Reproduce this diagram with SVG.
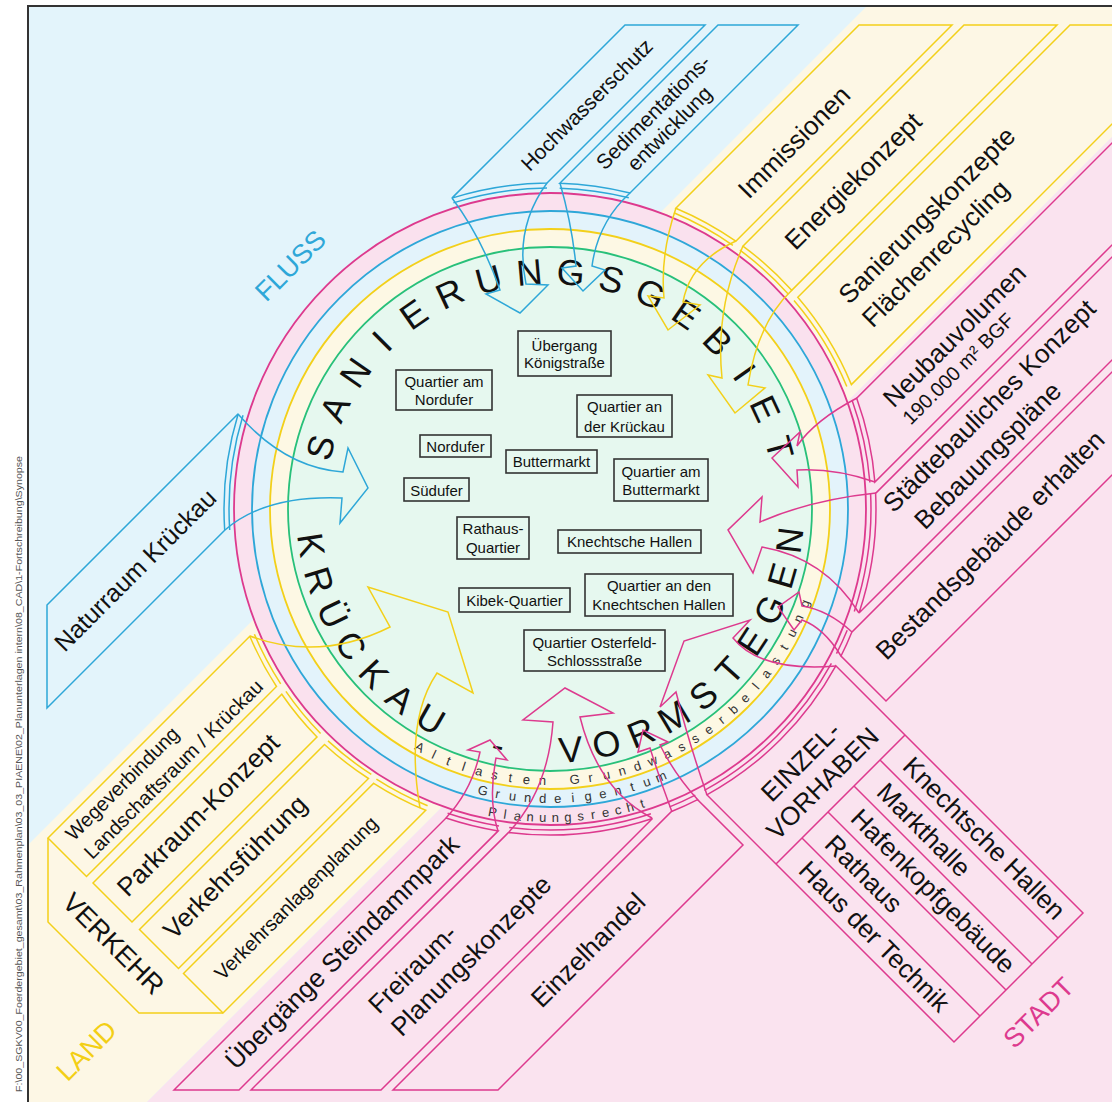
<svg xmlns="http://www.w3.org/2000/svg" width="1112" height="1102" viewBox="0 0 1112 1102">
<style>
text{font-family:"Liberation Sans",Arial,sans-serif;fill:#111}
.lbl{font-size:26px;text-anchor:middle}
.st{font-size:26px;text-anchor:start}
.big{font-size:36px;text-anchor:middle}
.rl text{font-size:13px;fill:#333;text-anchor:middle}
.qb rect{fill:none;stroke:#333;stroke-width:1.6}
.qb text{font-size:15px;text-anchor:middle}
.bl{fill:none;stroke:#2ea7d8;stroke-width:1.5}
.ye{fill:none;stroke:#f3d01a;stroke-width:1.5}
.mg{fill:none;stroke:#dd3a8e;stroke-width:1.5}
.zone{font-size:27px;text-anchor:middle}
.zb{fill:#2ea7d8}
.zy{fill:#f3cf15}
.zm{fill:#dd3a8e}
.path{font-size:9px;fill:#555}
</style>
<rect width="1112" height="1102" fill="#fff"/>
<g id="background">
<rect x="28" y="6" width="1100" height="1110" fill="#e3f4fb"/>
<polygon points="867,6 1112,6 1112,137 147,1102 28,1102 28,845" fill="#fdf7e5"/>
<polygon points="1112,137 1112,1102 147,1102" fill="#fae3ef"/>
<path d="M28,1102 V6 H1112" fill="none" stroke="#333" stroke-width="2"/>
<text class="path" transform="translate(22,1092) rotate(-90)" textLength="636" lengthAdjust="spacingAndGlyphs">F:\00_SGKV00_Foerdergebiet_gesamt\03_Rahmenplan\03_03_PIAENE\02_Planunterlagen intern\08_CAD\1-Fortschreibung\Synopse</text>
<text class="zone zb" transform="translate(290,265) rotate(-45)" y="10">FLUSS</text>
<text class="zone zy" transform="translate(86,1050) rotate(-45)" y="10">LAND</text>
<text class="zone zm" transform="translate(1038,1012) rotate(-45)" y="10">STADT</text>
</g>
<g id="ring">
<circle cx="550" cy="509" r="316" fill="#fae1ee" stroke="#dd3a8e" stroke-width="1.8"/>
<circle cx="550" cy="509" r="298" fill="#e3f3fb" stroke="#2ea7d8" stroke-width="1.8"/>
<circle cx="550" cy="509" r="280" fill="#fdf8e4" stroke="#f3d01a" stroke-width="1.8"/>
<circle cx="550" cy="509" r="262" fill="#e6f8ef" stroke="#28c07a" stroke-width="1.8"/>
</g>
<g id="ring-altlasten" class="rl">
<text x="550" y="785" transform="rotate(28.7 550 509)">A</text>
<text x="550" y="785" transform="rotate(25.31 550 509)">l</text>
<text x="550" y="785" transform="rotate(21.92 550 509)">t</text>
<text x="550" y="785" transform="rotate(18.53 550 509)">l</text>
<text x="550" y="785" transform="rotate(15.14 550 509)">a</text>
<text x="550" y="785" transform="rotate(11.75 550 509)">s</text>
<text x="550" y="785" transform="rotate(8.36 550 509)">t</text>
<text x="550" y="785" transform="rotate(4.97 550 509)">e</text>
<text x="550" y="785" transform="rotate(1.58 550 509)">n</text>
<text x="550" y="785" transform="rotate(-5.2 550 509)">G</text>
<text x="550" y="785" transform="rotate(-8.59 550 509)">r</text>
<text x="550" y="785" transform="rotate(-11.98 550 509)">u</text>
<text x="550" y="785" transform="rotate(-15.37 550 509)">n</text>
<text x="550" y="785" transform="rotate(-18.76 550 509)">d</text>
<text x="550" y="785" transform="rotate(-22.15 550 509)">w</text>
<text x="550" y="785" transform="rotate(-25.54 550 509)">a</text>
<text x="550" y="785" transform="rotate(-28.93 550 509)">s</text>
<text x="550" y="785" transform="rotate(-32.32 550 509)">s</text>
<text x="550" y="785" transform="rotate(-35.71 550 509)">e</text>
<text x="550" y="785" transform="rotate(-39.1 550 509)">r</text>
<text x="550" y="785" transform="rotate(-42.49 550 509)">b</text>
<text x="550" y="785" transform="rotate(-45.88 550 509)">e</text>
<text x="550" y="785" transform="rotate(-49.27 550 509)">l</text>
<text x="550" y="785" transform="rotate(-52.66 550 509)">a</text>
<text x="550" y="785" transform="rotate(-56.05 550 509)">s</text>
<text x="550" y="785" transform="rotate(-59.44 550 509)">t</text>
<text x="550" y="785" transform="rotate(-62.83 550 509)">u</text>
<text x="550" y="785" transform="rotate(-66.22 550 509)">n</text>
<text x="550" y="785" transform="rotate(-69.61 550 509)">g</text>
</g>
<g id="ring-grundeigentum" class="rl">
<text x="550" y="803" transform="rotate(13.4 550 509)">G</text>
<text x="550" y="803" transform="rotate(10.41 550 509)">r</text>
<text x="550" y="803" transform="rotate(7.42 550 509)">u</text>
<text x="550" y="803" transform="rotate(4.43 550 509)">n</text>
<text x="550" y="803" transform="rotate(1.44 550 509)">d</text>
<text x="550" y="803" transform="rotate(-1.55 550 509)">e</text>
<text x="550" y="803" transform="rotate(-4.54 550 509)">i</text>
<text x="550" y="803" transform="rotate(-7.53 550 509)">g</text>
<text x="550" y="803" transform="rotate(-10.52 550 509)">e</text>
<text x="550" y="803" transform="rotate(-13.51 550 509)">n</text>
<text x="550" y="803" transform="rotate(-16.5 550 509)">t</text>
<text x="550" y="803" transform="rotate(-19.49 550 509)">u</text>
<text x="550" y="803" transform="rotate(-22.48 550 509)">m</text>
</g>
<g id="ring-planungsrecht" class="rl">
<text x="550" y="822" transform="rotate(10.7 550 509)">P</text>
<text x="550" y="822" transform="rotate(8.36 550 509)">l</text>
<text x="550" y="822" transform="rotate(6.02 550 509)">a</text>
<text x="550" y="822" transform="rotate(3.68 550 509)">n</text>
<text x="550" y="822" transform="rotate(1.34 550 509)">u</text>
<text x="550" y="822" transform="rotate(-1 550 509)">n</text>
<text x="550" y="822" transform="rotate(-3.34 550 509)">g</text>
<text x="550" y="822" transform="rotate(-5.68 550 509)">s</text>
<text x="550" y="822" transform="rotate(-8.02 550 509)">r</text>
<text x="550" y="822" transform="rotate(-10.36 550 509)">e</text>
<text x="550" y="822" transform="rotate(-12.7 550 509)">c</text>
<text x="550" y="822" transform="rotate(-15.04 550 509)">h</text>
<text x="550" y="822" transform="rotate(-17.38 550 509)">t</text>
</g>
<g id="title-top">
<text class="big" x="550" y="284" transform="rotate(-75 550 509)">S</text>
<text class="big" x="550" y="284" transform="rotate(-65 550 509)">A</text>
<text class="big" x="550" y="284" transform="rotate(-55 550 509)">N</text>
<text class="big" x="550" y="284" transform="rotate(-45 550 509)">I</text>
<text class="big" x="550" y="284" transform="rotate(-35 550 509)">E</text>
<text class="big" x="550" y="284" transform="rotate(-25 550 509)">R</text>
<text class="big" x="550" y="284" transform="rotate(-15 550 509)">U</text>
<text class="big" x="550" y="284" transform="rotate(-5 550 509)">N</text>
<text class="big" x="550" y="284" transform="rotate(5 550 509)">G</text>
<text class="big" x="550" y="284" transform="rotate(15 550 509)">S</text>
<text class="big" x="550" y="284" transform="rotate(25 550 509)">G</text>
<text class="big" x="550" y="284" transform="rotate(35 550 509)">E</text>
<text class="big" x="550" y="284" transform="rotate(45 550 509)">B</text>
<text class="big" x="550" y="284" transform="rotate(55 550 509)">I</text>
<text class="big" x="550" y="284" transform="rotate(65 550 509)">E</text>
<text class="big" x="550" y="284" transform="rotate(75 550 509)">T</text>
</g>
<g id="title-bottom">
<text class="big" x="550" y="763" transform="rotate(81.4 550 509)">K</text>
<text class="big" x="550" y="763" transform="rotate(72.77 550 509)">R</text>
<text class="big" x="550" y="763" transform="rotate(64.14 550 509)">Ü</text>
<text class="big" x="550" y="763" transform="rotate(55.51 550 509)">C</text>
<text class="big" x="550" y="763" transform="rotate(46.88 550 509)">K</text>
<text class="big" x="550" y="763" transform="rotate(38.25 550 509)">A</text>
<text class="big" x="550" y="763" transform="rotate(29.62 550 509)">U</text>
<text class="big" x="550" y="763" transform="rotate(12.36 550 509)">-</text>
<text class="big" x="550" y="763" transform="rotate(-4.9 550 509)">V</text>
<text class="big" x="550" y="763" transform="rotate(-13.53 550 509)">O</text>
<text class="big" x="550" y="763" transform="rotate(-22.16 550 509)">R</text>
<text class="big" x="550" y="763" transform="rotate(-30.79 550 509)">M</text>
<text class="big" x="550" y="763" transform="rotate(-39.42 550 509)">S</text>
<text class="big" x="550" y="763" transform="rotate(-48.05 550 509)">T</text>
<text class="big" x="550" y="763" transform="rotate(-56.68 550 509)">E</text>
<text class="big" x="550" y="763" transform="rotate(-65.31 550 509)">G</text>
<text class="big" x="550" y="763" transform="rotate(-73.94 550 509)">E</text>
<text class="big" x="550" y="763" transform="rotate(-82.57 550 509)">N</text>
</g>
<g class="qb">
<g id="q-koenigstrasse"><rect x="518" y="331" width="93" height="45"/><text x="564.5" y="350.5">Übergang</text><text x="564.5" y="367.5">Königstraße</text></g>
<g id="q-quartier-nordufer"><rect x="396" y="370" width="96" height="40"/><text x="444" y="386.5">Quartier am</text><text x="444" y="404.5">Nordufer</text></g>
<g id="q-quartier-krueckau"><rect x="577" y="395" width="95" height="42"/><text x="624.5" y="412">Quartier an</text><text x="624.5" y="431.5">der Krückau</text></g>
<g id="q-nordufer"><rect x="420" y="435" width="71" height="22"/><text x="455.5" y="452">Nordufer</text></g>
<g id="q-buttermarkt"><rect x="506" y="450" width="91" height="23"/><text x="551.5" y="467">Buttermarkt</text></g>
<g id="q-quartier-buttermarkt"><rect x="614" y="459" width="94" height="42"/><text x="661" y="477">Quartier am</text><text x="661" y="494.5">Buttermarkt</text></g>
<g id="q-suedufer"><rect x="404" y="478" width="65" height="23"/><text x="436.5" y="495.5">Südufer</text></g>
<g id="q-rathaus"><rect x="457" y="517" width="72" height="42"/><text x="493" y="533.5">Rathaus-</text><text x="493" y="552.5">Quartier</text></g>
<g id="q-knechtsche"><rect x="558" y="530" width="143" height="23"/><text x="629.5" y="547">Knechtsche Hallen</text></g>
<g id="q-kibek"><rect x="459" y="588" width="111" height="24"/><text x="514.5" y="605.5">Kibek-Quartier</text></g>
<g id="q-quartier-knechtschen"><rect x="585" y="574" width="148" height="42"/><text x="659" y="590.5">Quartier an den</text><text x="659" y="610">Knechtschen Hallen</text></g>
<g id="q-osterfeld"><rect x="524" y="630" width="141" height="41"/><text x="594.5" y="647.5">Quartier Osterfeld-</text><text x="594.5" y="665.5">Schlossstraße</text></g>
</g>
<g id="n-hochwasserschutz">
<path class="bl" d="M625,25 L705,25 L547,183 A326,326 0 0 0 451.9,198.1 Z"/>
<path class="bl" d="M547,188 A321,321 0 0 0 453.4,202.9"/>
<text transform="translate(587,105) rotate(-45)" font-size="21" text-anchor="middle" y="7">Hochwasserschutz</text>
</g>
<g id="n-sedimentation">
<path class="bl" d="M718,25 L798,25 L630,193 A326,326 0 0 0 559.8,183.2 Z"/>
<path class="bl" d="M628.8,197.8 A321,321 0 0 0 559.65,188.2"/>
<text transform="translate(661.5,120.5) rotate(-45)" font-size="21" text-anchor="middle"><tspan x="0" y="-4.5">Sedimentations-</tspan><tspan x="0" y="18.5">entwicklung</tspan></text>
</g>
<g id="n-naturraum">
<path class="bl" d="M47,605 L238.2,413.8 A326,326 0 0 0 224.7,530.3 L47,708 Z"/>
<path class="bl" d="M243,415.3 A321,321 0 0 0 229.7,530"/>
<text transform="translate(135,570) rotate(-45)" font-size="25" text-anchor="middle" y="9">Naturraum Krückau</text>
</g>
<g id="n-immissionen">
<path class="ye" d="M859,25 L952,25 L735.8,241.2 A326,326 0 0 0 675.8,208.2 Z"/>
<path class="ye" d="M732.9,245.3 A321,321 0 0 0 673.9,212.8"/>
<text class="lbl" transform="translate(794,142) rotate(-45)" y="9">Immissionen</text>
</g>
<g id="n-energiekonzept">
<path class="ye" d="M964,25 L1057,25 L791.7,290.3 A326,326 0 0 0 742.9,246.1 Z"/>
<path class="ye" d="M788,293.7 A321,321 0 0 0 739.9,250.1"/>
<text class="lbl" transform="translate(853,181) rotate(-45)" y="9">Energiekonzept</text>
</g>
<g id="n-sanierung">
<path class="ye" d="M1070,25 L1211,25 L851.4,384.6 A326,326 0 0 0 797.8,297.2 Z"/>
<path class="ye" d="M846.8,386.5 A321,321 0 0 0 794,300.5"/>
<text class="st" transform="translate(843,299) rotate(-45)"><tspan x="0" y="9">Sanierungskonzepte</tspan><tspan x="0" y="42">Flächenrecycling</tspan></text>
</g>
<g id="n-neubau">
<path class="mg" d="M1140,115 L856.7,398.3 A326,326 0 0 1 874.9,482.1 L1140,217 Z"/>
<path class="mg" d="M852,400 A321,321 0 0 1 869.9,482.5"/>
<text class="st" transform="translate(887.5,402.5) rotate(-45)"><tspan x="0" y="9">Neubauvolumen</tspan><tspan x="0" y="33" font-size="20">190.000 m² BGF</tspan></text>
</g>
<g id="n-staedtebau">
<path class="mg" d="M1140,229 L875.6,493.4 A326,326 0 0 1 859,613 L1140,332 Z"/>
<path class="mg" d="M870.6,493.6 A321,321 0 0 1 854.3,611.4"/>
<text class="st" transform="translate(887.5,507.5) rotate(-45)"><tspan x="0" y="9">Städtebauliches Konzept</tspan><tspan x="10" y="43">Bebauungspläne</tspan></text>
</g>
<g id="n-bestand">
<path class="mg" d="M1140,344 L851.8,632.2 A326,326 0 0 1 841,656 L886,701 L1140,447 Z"/>
<path class="mg" d="M847.2,630.3 A321,321 0 0 1 836.5,653.7"/>
<text class="lbl" transform="translate(990,545) rotate(-45)" y="9">Bestandsgebäude erhalten</text>
</g>
<g id="n-einzelvorhaben">
<path class="mg" d="M835.8,665.8 L1083,913 L954,1042 L706.8,794.8 A326,326 0 0 0 835.8,665.8 Z"/>
<path class="mg" d="M704.4,790.4 A321,321 0 0 0 831.4,663.4"/>
<path class="mg" d="M905,735 L776,864 M880,760 L1058,938 M854,786 L1032,964 M828,812 L1006,990 M802,838 L980,1016"/>
<text class="lbl" transform="translate(811.5,772.5) rotate(-45)"><tspan x="0" y="-6.5">EINZEL-</tspan><tspan x="0" y="24.5">VORHABEN</tspan></text>
<text class="st" transform="translate(907.5,761.5) rotate(45)" y="9">Knechtsche Hallen</text>
<text class="st" transform="translate(881.5,787.5) rotate(45)" y="9">Markthalle</text>
<text class="st" transform="translate(855.5,813.5) rotate(45)" y="9">Hafenkopfgebäude</text>
<text class="st" transform="translate(829.5,839.5) rotate(45)" y="9">Rathaus</text>
<text class="st" transform="translate(803.5,865.5) rotate(45)" y="9">Haus der Technik</text>
</g>
<g id="n-einzelhandel">
<path class="mg" d="M393,1090 L671.5,811.5 A326,326 0 0 0 697.6,799.6 L743,845 L498,1090 Z"/>
<path class="mg" d="M669.6,806.9 A321,321 0 0 0 695.3,795.1"/>
<text class="lbl" transform="translate(588,950) rotate(-45)" y="9">Einzelhandel</text>
</g>
<g id="n-freiraum">
<path class="mg" d="M251,1090 L508.6,832.4 A326,326 0 0 0 652.5,818.5 L381,1090 Z"/>
<path class="mg" d="M509.2,827.4 A321,321 0 0 0 650.9,813.8"/>
<text class="st" transform="translate(384,1020) rotate(-45)"><tspan x="0" y="-7">Freiraum-</tspan><tspan x="0" y="25">Planungskonzepte</tspan></text>
</g>
<g id="n-uebergaenge">
<path class="mg" d="M174,1090 L446,818 A326,326 0 0 0 498.2,830.9 L239,1090 Z"/>
<path class="mg" d="M447.6,813.3 A321,321 0 0 0 499,826"/>
<text class="lbl" transform="translate(342,952) rotate(-45)" y="9">Übergänge Steindammpark</text>
</g>
<g id="n-verkehr">
<path class="ye" d="M48,838 L48,922 L139,1013 L223,1013"/>
<text transform="translate(114,943) rotate(45)" font-size="27" text-anchor="middle" y="10">VERKEHR</text>
</g>
<g id="n-wegeverbindung">
<path class="ye" d="M48,838 L249.8,636.2 A326,326 0 0 0 276.5,686.5 L86.5,876.5 Z"/>
<path class="ye" d="M254.4,634.2 A321,321 0 0 0 280.7,683.8"/>
<text transform="translate(78,846) rotate(-45)" font-size="20"><tspan x="0" y="-6">Wegeverbindung</tspan><tspan x="0" y="20">Landschaftsraum / Krückau</tspan></text>
</g>
<g id="n-parkraum">
<path class="ye" d="M93,883 L281.8,694.2 A326,326 0 0 0 317,737 L132,922 Z"/>
<path class="ye" d="M285.9,691.4 A321,321 0 0 0 320.6,733.5"/>
<text class="lbl" transform="translate(198,815) rotate(-45)" y="9">Parkraum-Konzept</text>
</g>
<g id="n-verkehrsfuehrung">
<path class="ye" d="M139.5,929.5 L324.5,744.5 A326,326 0 0 0 368.5,778.5 L178.5,968.5 Z"/>
<path class="ye" d="M328,740.9 A321,321 0 0 0 371.3,774.4"/>
<text class="lbl" transform="translate(235,867) rotate(-45)" y="9">Verkehrsführung</text>
</g>
<g id="n-verkehrsanlagen">
<path class="ye" d="M183.5,973.5 L373.7,783.3 A326,326 0 0 0 425.7,810.3 L223,1013 Z"/>
<path class="ye" d="M376.4,779.1 A321,321 0 0 0 427.6,805.7"/>
<text transform="translate(296,898) rotate(-45)" font-size="20" text-anchor="middle" y="7">Verkehrsanlagenplanung</text>
</g>
<g id="connectors">
<path class="bl" d="M452,198 Q482,238 500,290 L486,294 L520,313 L548,285 L526,284 Q514,228 547,183"/>
<path class="bl" d="M560,183 Q572,225 576,266 L562,268 L583,291 L605,270 L592,266 Q598,222 630,193"/>
<path class="bl" d="M238,414 Q285,468 343,472 L348,448 L368,488 L340,523 L342,498 Q265,495 225,530"/>
<path class="ye" d="M676,208 Q660,255 664,298 L648,296 L668,330 L700,305 L683,302 Q690,262 736,241"/>
<path class="ye" d="M743,246 Q715,310 722,378 L708,375 L735,413 L765,388 L748,385 Q758,322 792,290"/>
<path class="ye" d="M250,636 Q320,662 390,627 L368,587 L448,612 L473,693 L437,673 Q405,720 420,808"/>
<path class="mg" d="M857,398 Q815,420 797,446 L800,432 L772,458 L798,487 L797,470 Q835,468 875,482"/>
<path class="mg" d="M876,493 Q810,500 760,522 L762,497 L728,530 L753,573 L762,547 Q825,558 859,613"/>
<path class="mg" d="M852,632 Q828,610 802,606 L799,592 L778,607 L794,630 L802,620 Q824,628 841,656"/>
<path class="mg" d="M446,818 Q472,790 480,752 L468,750 L490,740 L507,760 L496,758 Q488,800 498,831"/>
<path class="mg" d="M509,832 Q548,790 553,722 L523,720 L565,688 L613,713 L580,717 Q598,790 652,818"/>
<path class="mg" d="M672,812 Q660,780 650,748 L638,752 L643,730 L668,742 L660,745 Q675,775 698,800"/>
<path class="mg" d="M707,795 Q688,740 676,692 L660,707 L684,641 L750,620 L733,638 Q760,672 836,666"/>
</g>
</svg>
